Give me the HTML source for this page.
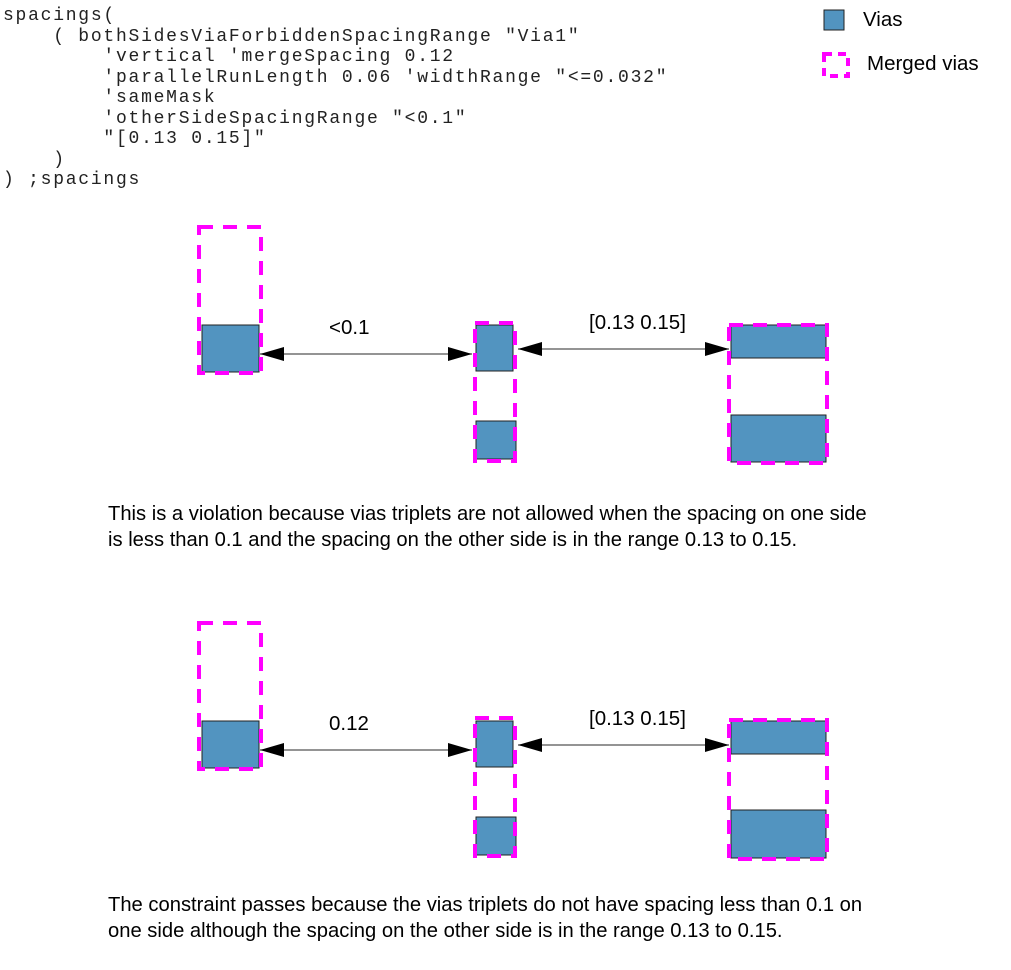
<!DOCTYPE html>
<html><head><style>
body{margin:0;background:#fff;width:1011px;height:970px;overflow:hidden;position:relative}
pre{position:absolute;left:3px;top:6px;margin:0;font-family:"Liberation Mono",monospace;font-size:18px;letter-spacing:1.75px;line-height:20.5px;color:#222}
.t{position:absolute;font-family:"Liberation Sans",sans-serif;font-size:20.2px;color:#000;line-height:26px;white-space:nowrap}
.l{font-size:20.5px}
</style></head><body>
<pre>spacings(
    ( bothSidesViaForbiddenSpacingRange "Via1"
        'vertical 'mergeSpacing 0.12
        'parallelRunLength 0.06 'widthRange "&lt;=0.032"
        'sameMask
        'otherSideSpacingRange "&lt;0.1"
        "[0.13 0.15]"
    )
) ;spacings</pre>
<svg width="1011" height="970" style="position:absolute;left:0;top:0">
<defs>
<marker id="a" markerWidth="24" markerHeight="14" refX="24" refY="7" orient="auto" markerUnits="userSpaceOnUse"><path d="M0,0 L24,7 L0,14 z" fill="#000"/></marker>
<marker id="b" markerWidth="24" markerHeight="14" refX="0" refY="7" orient="auto" markerUnits="userSpaceOnUse"><path d="M24,0 L0,7 L24,14 z" fill="#000"/></marker>
</defs>
<g fill="#5294c0" stroke="#222" stroke-width="1">
<rect x="824" y="10" width="20" height="20"/>
<rect x="202" y="325" width="57" height="47"/>
<rect x="476" y="325" width="37" height="46"/>
<rect x="476" y="421" width="40" height="38"/>
<rect x="731" y="325" width="95" height="33"/>
<rect x="731" y="415" width="95" height="47"/>
<rect x="202" y="721" width="57" height="47"/>
<rect x="476" y="721" width="37" height="46"/>
<rect x="476" y="817" width="40" height="38"/>
<rect x="731" y="721" width="95" height="33"/>
<rect x="731" y="810" width="95" height="48"/>
</g>
<g fill="none" stroke="#ff00ff" stroke-width="4" stroke-dasharray="14,10">
<rect x="824" y="54" width="24" height="22" stroke-dasharray="8,6"/>
<rect x="199" y="227" width="62" height="146"/>
<rect x="475" y="323" width="40" height="138"/>
<rect x="729" y="325" width="98" height="138"/>
<rect x="199" y="623" width="62" height="146"/>
<rect x="475" y="718" width="40" height="138"/>
<rect x="729" y="720" width="98" height="139"/>
</g>
<g stroke="#555" stroke-width="1.3">
<line x1="260" y1="354" x2="472" y2="354" marker-start="url(#b)" marker-end="url(#a)"/>
<line x1="518" y1="349" x2="729" y2="349" marker-start="url(#b)" marker-end="url(#a)"/>
<line x1="260" y1="750" x2="472" y2="750" marker-start="url(#b)" marker-end="url(#a)"/>
<line x1="518" y1="745" x2="729" y2="745" marker-start="url(#b)" marker-end="url(#a)"/>
</g>
</svg>
<div class="t l" style="left:863px;top:7px">Vias</div>
<div class="t l" style="left:867px;top:51px">Merged vias</div>
<div class="t l" style="left:329px;top:315px">&lt;0.1</div>
<div class="t l" style="left:589px;top:310px">[0.13 0.15]</div>
<div class="t l" style="left:329px;top:711px">0.12</div>
<div class="t l" style="left:589px;top:706px">[0.13 0.15]</div>
<div class="t" style="left:108px;top:501px">This is a violation because vias triplets are not allowed when the spacing on one side<br>is less than 0.1 and the spacing on the other side is in the range 0.13 to 0.15.</div>
<div class="t" style="left:108px;top:892px">The constraint passes because the vias triplets do not have spacing less than 0.1 on<br>one side although the spacing on the other side is in the range 0.13 to 0.15.</div>
</body></html>
